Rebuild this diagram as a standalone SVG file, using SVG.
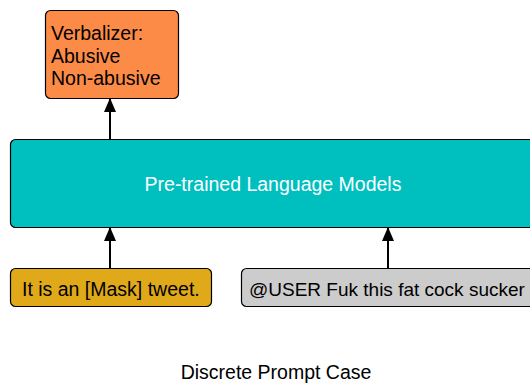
<svg xmlns="http://www.w3.org/2000/svg" width="530" height="383" viewBox="0 0 530 383">
<style>
.box{stroke:#000;stroke-width:1.2}
.t{font-family:"Liberation Sans",Arial,sans-serif;font-size:19.5px;fill:#000}
.c{stroke:#000;stroke-width:2;fill:none}
</style>
<defs>
<marker id="ah" viewBox="0 0 14 12" refX="13" refY="6" markerWidth="14" markerHeight="12" markerUnits="userSpaceOnUse" orient="auto">
<path d="M0,0 L14,6 L0,12 Z" fill="#000"/>
</marker>
</defs>
<rect width="530" height="383" fill="#fff"/>
<g id="verbalizer">
<rect class="box" x="45.5" y="10.5" width="133" height="88" rx="5" fill="#FD8B48"/>
<text class="t" x="51" y="40">Verbalizer:</text>
<text class="t" x="51" y="63">Abusive</text>
<text class="t" x="51" y="85">Non-abusive</text>
</g>
<g id="plm">
<rect class="box" x="10.5" y="139.5" width="540" height="88" rx="5" fill="#00BFBF"/>
<text class="t" x="273" y="191" text-anchor="middle" style="fill:#fff">Pre-trained Language Models</text>
</g>
<g id="prompt">
<rect class="box" x="10.5" y="268.5" width="201" height="38" rx="5" fill="#DFA91A"/>
<text class="t" x="22" y="296">It is an [Mask] tweet.</text>
</g>
<g id="tweet">
<rect class="box" x="241.5" y="268.5" width="310" height="38" rx="5" fill="#CCCCCC"/>
<text class="t" x="249" y="296" style="font-size:19px">@USER Fuk this fat cock sucker</text>
</g>
<g id="connectors">
<line class="c" x1="110" y1="139" x2="110" y2="99" marker-end="url(#ah)"/>
<line class="c" x1="110" y1="268" x2="110" y2="228" marker-end="url(#ah)"/>
<line class="c" x1="388" y1="268" x2="388" y2="228" marker-end="url(#ah)"/>
</g>
<text class="t" x="276" y="379" text-anchor="middle">Discrete Prompt Case</text>
</svg>
